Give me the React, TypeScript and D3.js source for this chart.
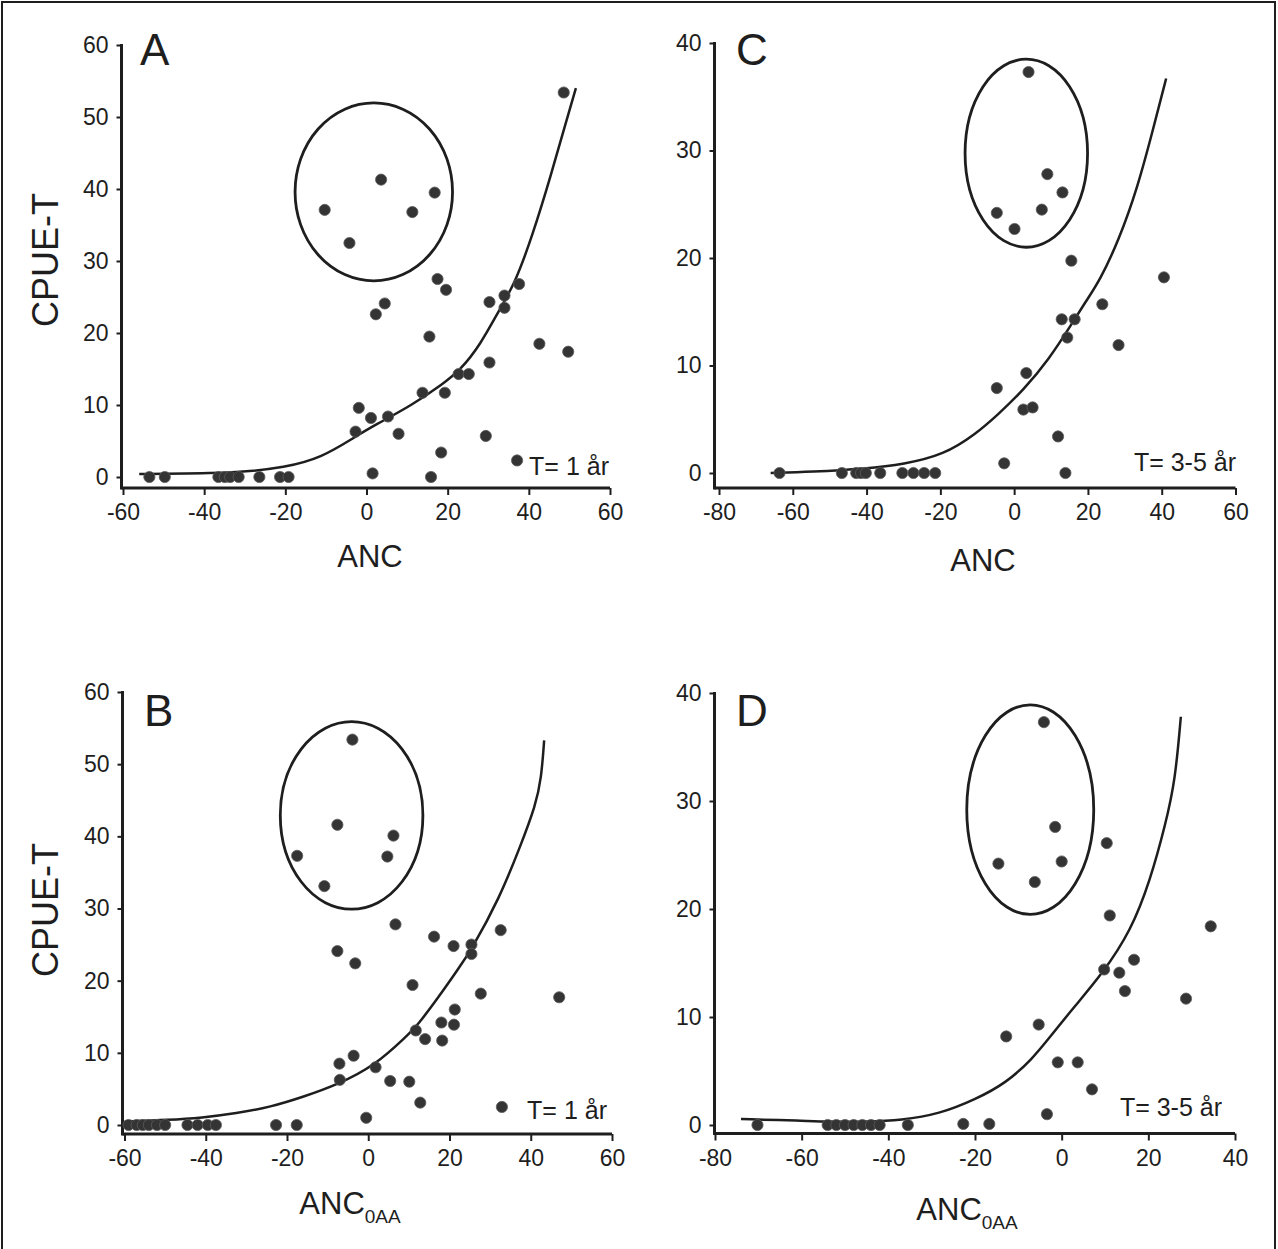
import * as d3 from "d3";
import { useRef, useEffect } from "react";

const FONT = '"Liberation Sans", Arial, Helvetica, sans-serif';
const INK = "#1e1e1e";
const DOT = "#343434";

// ---- Panel A: CPUE-T vs ANC, T = 1 år
const pointsA = [
  [-10.3, 37.1], [-4.2, 32.5], [3.6, 41.3], [11.3, 36.8], [16.8, 39.5],
  [17.5, 27.5], [19.6, 26.0], [4.5, 24.1], [2.3, 22.6],
  [30.3, 24.3], [34.0, 25.2], [34.0, 23.5], [37.6, 26.8], [48.6, 53.4],
  [15.5, 19.5], [42.6, 18.5], [49.7, 17.4], [30.3, 15.9], [22.7, 14.3], [25.2, 14.3],
  [13.8, 11.7], [19.3, 11.7], [-1.9, 9.6], [1.1, 8.2], [5.3, 8.4], [-2.7, 6.3], [7.9, 6.0],
  [29.4, 5.7], [18.4, 3.4], [37.1, 2.3], [1.5, 0.5], [15.9, 0],
  [-53.5, 0], [-49.7, 0], [-36.5, 0], [-34.9, 0], [-33.6, 0], [-31.5, 0],
  [-26.4, 0], [-21.3, 0], [-19.2, 0],
];
const curveA = [
  [-56, 0.4], [-45, 0.5], [-32, 0.6], [-20, 1.3], [-11, 2.7], [-3, 5.5], [2, 7.2],
  [11, 9.9], [19, 13], [23, 14.8], [28, 18.3], [33, 23.5], [36.5, 26.8], [41, 33.7],
  [45.5, 42], [49, 49], [51.6, 54],
];
const ellipseA = { cx: 1.8, cy: 39.6, rx: 19.4, ry: 12.35 };

// ---- Panel B: CPUE-T vs ANC0AA, T = 1 år
const pointsB = [
  [-3.9, 53.4], [-7.6, 41.6], [6.2, 40.1], [-17.5, 37.3], [4.7, 37.2], [-10.8, 33.1],
  [6.7, 27.8], [-7.6, 24.1], [-3.2, 22.4], [16.2, 26.1], [21.0, 24.8], [25.4, 25.0],
  [25.4, 23.7], [32.6, 27.0],
  [10.9, 19.4], [27.7, 18.2], [47.0, 17.7], [21.3, 16.0], [18.0, 14.2], [21.1, 13.9],
  [11.7, 13.1], [14.0, 11.9], [18.2, 11.7], [-3.6, 9.6], [-7.1, 8.5], [1.8, 8.0],
  [-7.0, 6.25], [5.4, 6.1], [10.1, 6.0], [12.8, 3.1], [-0.5, 1.0], [32.9, 2.5],
  [-22.7, 0], [-17.6, 0],
  [-59, 0], [-57, 0], [-55.5, 0], [-54, 0], [-52, 0], [-50, 0],
  [-44.5, 0], [-42, 0], [-39.5, 0], [-37.5, 0],
];
const curveB = [
  [-60, 0.5], [-49, 0.7], [-41, 1.0], [-32.5, 1.6], [-24, 2.5], [-16, 3.9], [-7.5, 5.6],
  [1.8, 8.3], [9.4, 12.3], [12, 13.7], [17.8, 18.1], [22, 21.5], [25.4, 24.3],
  [32.2, 31.3], [37.5, 38.7], [41.2, 44.3], [42.6, 48], [43.3, 53.3],
];
const ellipseB = { cx: -4.1, cy: 42.9, rx: 17.55, ry: 13.0 };

// ---- Panel C: CPUE-T vs ANC, T = 3-5 år
const pointsC = [
  [3.9, 37.3], [9.0, 27.8], [13.1, 26.1], [7.5, 24.5], [-4.7, 24.2], [0.1, 22.7],
  [15.5, 19.75], [40.6, 18.2], [23.9, 15.7], [12.9, 14.3], [16.4, 14.3], [14.4, 12.6],
  [28.3, 11.9], [3.3, 9.3], [-4.7, 7.9], [2.5, 5.9], [5.0, 6.1], [11.9, 3.4],
  [-2.7, 0.9], [13.9, 0],
  [-63.6, 0], [-46.7, 0], [-42.8, 0], [-41.5, 0], [-40.2, 0], [-36.3, 0],
  [-30.3, 0], [-27.3, 0], [-24.4, 0], [-21.4, 0],
];
const curveC = [
  [-66, 0], [-55, 0.1], [-40, 0.4], [-30, 0.8], [-19, 1.7], [-10.5, 3.6], [-4.5, 5.4],
  [2.5, 7.7], [9.5, 10.6], [15.5, 13.8], [19.5, 16], [23.2, 17.9], [28.3, 21.6],
  [33.5, 26.6], [37.6, 31.9], [41.2, 36.7],
];
const ellipseC = { cx: 3.3, cy: 29.75, rx: 16.6, ry: 8.75 };

// ---- Panel D: CPUE-T vs ANC0AA, T = 3-5 år
const pointsD = [
  [-4.1, 37.3], [-1.5, 27.6], [10.4, 26.1], [-14.6, 24.2], [0.0, 24.4], [-6.2, 22.5],
  [11.1, 19.4], [34.4, 18.4], [16.7, 15.3], [9.8, 14.4], [13.3, 14.1], [14.6, 12.4],
  [28.7, 11.7], [-5.3, 9.3], [-12.8, 8.2], [-0.9, 5.8], [3.7, 5.8], [7.0, 3.3],
  [-3.4, 1.0], [-22.7, 0.1], [-16.7, 0.1],
  [-70.2, 0], [-54, 0], [-52, 0], [-50, 0], [-48, 0], [-46, 0], [-44, 0], [-42, 0],
  [-35.5, 0],
];
const curveD = [
  [-74, 0.55], [-60, 0.4], [-54, 0.3], [-45, 0.3], [-37, 0.45], [-28.3, 1.0],
  [-19.7, 2.4], [-12.8, 3.9], [-6.8, 6.1], [-2.6, 8.2], [2.6, 10.8], [9.4, 14.0],
  [16, 18], [20.4, 22.6], [24, 27.9], [26.2, 31.9], [27.5, 37.8],
];
const ellipseD = { cx: -7.25, cy: 29.2, rx: 14.65, ry: 9.7 };

// ---- tick values
const xTicksAB = [-60, -40, -20, 0, 20, 40, 60];
const xTicksC = [-80, -60, -40, -20, 0, 20, 40, 60];
const xTicksD = [-80, -60, -40, -20, 0, 20, 40];
const yTicks60 = [0, 10, 20, 30, 40, 50, 60];
const yTicks40 = [0, 10, 20, 30, 40];

const panels = [
  {
    id: "A", points: pointsA, curve: curveA, ellipse: ellipseA,
    xDomain: [-60, 60], xRange: [123, 610], yDomain: [0, 60], yRange: [477, 45],
    xTicks: xTicksAB, yTicks: yTicks60, xAxisY: 488, yAxisX: 121.5,
    note: "T= 1 år", noteX: 609, noteY: 475,
    xTitle: "ANC", sub: null, titleX: 370, titleY: 567, showYTitle: true, yTitleY: 260,
    letterX: 140, letterY: 65,
  },
  {
    id: "C", points: pointsC, curve: curveC, ellipse: ellipseC,
    xDomain: [-80, 60], xRange: [719, 1235.5], yDomain: [0, 40], yRange: [473, 43],
    xTicks: xTicksC, yTicks: yTicks40, xAxisY: 488, yAxisX: 714.5,
    note: "T= 3-5 år", noteX: 1236, noteY: 471,
    xTitle: "ANC", sub: null, titleX: 983, titleY: 571, showYTitle: false, yTitleY: 0,
    letterX: 736, letterY: 65,
  },
  {
    id: "B", points: pointsB, curve: curveB, ellipse: ellipseB,
    xDomain: [-60, 60], xRange: [124.5, 612], yDomain: [0, 60], yRange: [1125, 692],
    xTicks: xTicksAB, yTicks: yTicks60, xAxisY: 1134, yAxisX: 122.5,
    note: "T= 1 år", noteX: 607, noteY: 1119,
    xTitle: "ANC", sub: "0AA", titleX: 350, titleY: 1214, showYTitle: true, yTitleY: 910,
    letterX: 144, letterY: 726,
  },
  {
    id: "D", points: pointsD, curve: curveD, ellipse: ellipseD,
    xDomain: [-80, 40], xRange: [715, 1235], yDomain: [0, 40], yRange: [1125, 693],
    xTicks: xTicksD, yTicks: yTicks40, xAxisY: 1133.5, yAxisX: 714.5,
    note: "T= 3-5 år", noteX: 1222, noteY: 1116,
    xTitle: "ANC", sub: "0AA", titleX: 967, titleY: 1220, showYTitle: false, yTitleY: 0,
    letterX: 736, letterY: 726,
  },
];

function Panel({ p }) {
  const gx = useRef(null);
  const gy = useRef(null);

  const x = d3.scaleLinear().domain(p.xDomain).range(p.xRange);
  const y = d3.scaleLinear().domain(p.yDomain).range(p.yRange);

  const line = d3.line()
    .x(d => x(d[0]))
    .y(d => y(d[1]))
    .curve(d3.curveBasis);

  useEffect(() => {
    const style = (g) => {
      g.select(".domain").remove();
      g.selectAll("line").attr("stroke", INK).attr("stroke-width", 2);
      g.selectAll("text")
        .attr("font-family", FONT)
        .attr("font-size", 23)
        .attr("fill", INK);
    };
    d3.select(gx.current)
      .call(d3.axisBottom(x).tickValues(p.xTicks).tickSize(7).tickPadding(9).tickFormat(d => String(d)))
      .call(style);
    d3.select(gy.current)
      .call(d3.axisLeft(y).tickValues(p.yTicks).tickSize(5).tickPadding(8).tickFormat(d => String(d)))
      .call(style);
  }, [p]);

  const e = p.ellipse;

  return (
    <g>
      {/* axis lines */}
      <line x1={p.yAxisX} x2={p.yAxisX} y1={y(p.yDomain[1]) - 1} y2={p.xAxisY + 1.5}
        stroke={INK} strokeWidth={3} />
      <line x1={p.yAxisX} x2={x(p.xDomain[1])} y1={p.xAxisY} y2={p.xAxisY}
        stroke={INK} strokeWidth={3} />
      <g ref={gx} transform={`translate(0,${p.xAxisY})`} />
      <g ref={gy} transform={`translate(${p.yAxisX},0)`} />

      <ellipse
        cx={x(e.cx)} cy={y(e.cy)}
        rx={x(e.cx + e.rx) - x(e.cx)} ry={y(e.cy) - y(e.cy + e.ry)}
        fill="none" stroke={INK} strokeWidth={2.8}
      />

      <path d={line(p.curve)} fill="none" stroke={INK} strokeWidth={2.5} />

      {p.points.map((d, i) => (
        <circle key={i} cx={x(d[0])} cy={y(d[1])} r={5.6}
          fill={DOT} stroke="#5a5a5a" strokeWidth={0.8} />
      ))}

      <text x={p.letterX} y={p.letterY} fontFamily={FONT} fontSize={44} fill={INK}>{p.id}</text>

      <text x={p.noteX} y={p.noteY} textAnchor="end" fontFamily={FONT} fontSize={25} fill={INK}>
        {p.note}
      </text>

      <text x={p.titleX} y={p.titleY} textAnchor="middle" fontFamily={FONT} fontSize={31} fill={INK}>
        {p.xTitle}
        {p.sub && <tspan dy={9} fontSize={19}>{p.sub}</tspan>}
      </text>

      {p.showYTitle && (
        <text transform={`translate(58,${p.yTitleY}) rotate(-90)`} textAnchor="middle"
          fontFamily={FONT} fontSize={36} fill={INK}>
          CPUE-T
        </text>
      )}
    </g>
  );
}

export default function App() {
  return (
    <svg width={1278} height={1249}
      style={{ position: "absolute", left: 0, top: 0, background: "#fff" }}>
      <rect x={0} y={0} width={1278} height={1249} fill="#fff" />
      <rect x={2} y={2} width={1273} height={1262} fill="none" stroke={INK} strokeWidth={2} />
      {panels.map(p => <Panel key={p.id} p={p} />)}
    </svg>
  );
}
